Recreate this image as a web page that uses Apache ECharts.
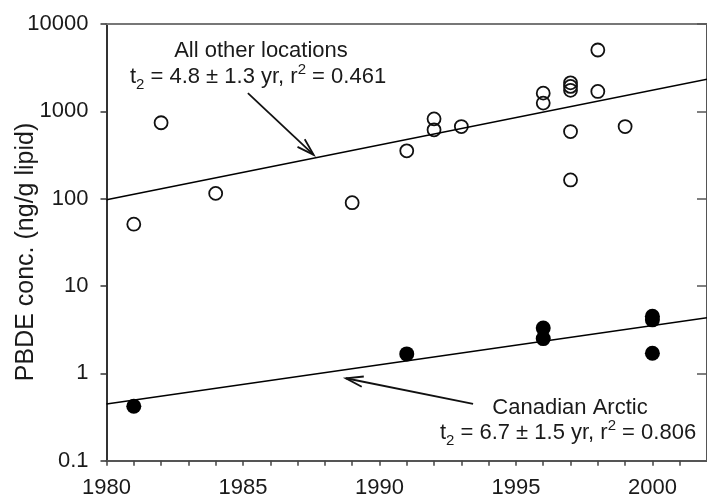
<!DOCTYPE html>
<html>
<head>
<meta charset="utf-8">
<script src="https://cdn.jsdelivr.net/npm/echarts@6/dist/echarts.min.js"></script>
<style>
  html, body { margin: 0; padding: 0; background: #fff; }
  #chart { width: 707px; height: 499px; }
</style>
</head>
<body>
<div id="chart"></div>
<script>
// PBDE concentrations over time (ng/g lipid)
const otherYears = [1981, 1982, 1984, 1989, 1991, 1992, 1992, 1993, 1996, 1996, 1997, 1997, 1997, 1997, 1997, 1998, 1998, 1999];
const otherConc  = [51, 740, 115, 90, 353, 820, 614, 670, 1616, 1242, 2120, 1930, 1740, 587, 164, 5040, 1690, 670];

const arcticYears = [1981, 1991, 1996, 1996, 2000, 2000, 2000];
const arcticConc  = [0.42, 1.67, 3.3, 2.5, 4.5, 4.1, 1.7];

// Log-linear regression lines, evaluated at the ends of the year range
const trendYears  = [1980, 2002];
const trendOther  = [97, 2330];
const trendArctic = [0.446, 4.34];

// Annotation arrows: [fromYear, fromConc, toYear, toConc]
const arrowOther  = [1985.18, 1617, 1987.59, 318];
const arrowArctic = [1993.43, 0.446, 1988.77, 0.879];

const yTicks = [0.1, 1, 10, 100, 1000, 10000];
const xLabelStep = 5;

const FONT = 'Liberation Sans, Arial, Helvetica, sans-serif';
const TEXT = '#1a1a1a';

const zip = (xs, ys) => xs.map((x, i) => [x, ys[i]]);

const chart = echarts.init(document.getElementById('chart'), null, { renderer: 'canvas' });

function arrowItem(params, api) {
  const p0 = api.coord([api.value(0), api.value(1)]);
  const p1 = api.coord([api.value(2), api.value(3)]);
  const ang = Math.atan2(p0[1] - p1[1], p0[0] - p1[0]);
  const len = 18, spread = 17 * Math.PI / 180;
  const h1 = [p1[0] + len * Math.cos(ang + spread), p1[1] + len * Math.sin(ang + spread)];
  const h2 = [p1[0] + len * Math.cos(ang - spread), p1[1] + len * Math.sin(ang - spread)];
  const style = { stroke: '#111', lineWidth: 1.8, fill: null };
  return {
    type: 'group',
    children: [
      { type: 'line', shape: { x1: p0[0], y1: p0[1], x2: p1[0], y2: p1[1] }, style },
      { type: 'polyline', shape: { points: [h1, p1, h2] }, style }
    ]
  };
}

const main = { fontSize: 22, fontFamily: FONT, color: TEXT, lineHeight: 30 };
const rich = {
  a: main,
  sub: { fontSize: 15, fontFamily: FONT, color: TEXT, lineHeight: 12, verticalAlign: 'bottom' },
  sup: { fontSize: 15, fontFamily: FONT, color: TEXT, lineHeight: 14, verticalAlign: 'top' }
};
const stat = (t, err, r2) => `{a|t}{sub|2}{a| = ${t} ± ${err} yr, r}{sup|2}{a| = ${r2}}`;

const option = {
  animation: false,
  backgroundColor: '#fff',
  grid: { left: 106.5, right: -8.5, top: 24, bottom: 38.3, containLabel: false },
  xAxis: [
    {
      type: 'value', position: 'bottom', min: 1980, max: 2002, interval: 1,
      axisLine: { show: true, lineStyle: { color: '#555', width: 2 } },
      axisTick: { show: true, inside: false, length: 5, lineStyle: { color: '#444', width: 1.5 } },
      axisLabel: {
        fontSize: 22, fontFamily: FONT, color: TEXT, margin: 16,
        showMaxLabel: false,
        formatter: v => (v % xLabelStep === 0 ? String(v) : '')
      },
      splitLine: { show: false }
    },
    {
      type: 'value', position: 'top', min: 1980, max: 2002, interval: 1,
      axisLine: { show: true, lineStyle: { color: '#777', width: 2.2 } },
      axisTick: { show: false }, axisLabel: { show: false }, splitLine: { show: false }
    }
  ],
  yAxis: [
    {
      type: 'log', logBase: 10, position: 'left', min: yTicks[0], max: yTicks[yTicks.length - 1],
      axisLine: { show: true, lineStyle: { color: '#333', width: 2 } },
      axisTick: { show: true, inside: false, length: 6, lineStyle: { color: '#333', width: 1.5 } },
      axisLabel: {
        fontSize: 22, fontFamily: FONT, color: TEXT, margin: 18,
        formatter: v => String(Number(v.toPrecision(3)))
      },
      splitLine: { show: false }
    },
    {
      type: 'log', logBase: 10, position: 'right', min: yTicks[0], max: yTicks[yTicks.length - 1],
      axisLine: { show: true, lineStyle: { color: '#555', width: 2 } },
      axisTick: { show: true, inside: true, length: 10, lineStyle: { color: '#555', width: 1.5 } },
      axisLabel: { show: false }, splitLine: { show: false }
    }
  ],
  series: [
    {
      name: 'All other locations trend', type: 'line', xAxisIndex: 0, yAxisIndex: 0,
      data: zip(trendYears, trendOther), symbol: 'none',
      lineStyle: { color: '#000', width: 1.6 }, silent: true
    },
    {
      name: 'Canadian Arctic trend', type: 'line', xAxisIndex: 0, yAxisIndex: 0,
      data: zip(trendYears, trendArctic), symbol: 'none',
      lineStyle: { color: '#000', width: 1.6 }, silent: true
    },
    {
      name: 'All other locations', type: 'scatter', xAxisIndex: 0, yAxisIndex: 0,
      data: zip(otherYears, otherConc), symbol: 'circle', symbolSize: 13,
      itemStyle: { color: 'rgba(0,0,0,0)', borderColor: '#111', borderWidth: 1.8, opacity: 1 }
    },
    {
      name: 'Canadian Arctic', type: 'scatter', xAxisIndex: 0, yAxisIndex: 0,
      data: zip(arcticYears, arcticConc), symbol: 'circle', symbolSize: 15,
      itemStyle: { color: '#000', opacity: 1 }
    },
    {
      name: 'annotation arrows', type: 'custom', xAxisIndex: 0, yAxisIndex: 0,
      renderItem: arrowItem, data: [arrowOther, arrowArctic], silent: true
    }
  ],
  graphic: [
    {
      type: 'text', x: 26, y: 252, rotation: Math.PI / 2,
      style: { text: 'PBDE conc. (ng/g lipid)', font: `25px ${FONT}`, fill: TEXT, align: 'center', verticalAlign: 'middle' }
    },
    {
      type: 'text', x: 261, y: 50.5,
      style: { text: 'All other locations', font: `22px ${FONT}`, fill: TEXT, align: 'center', verticalAlign: 'middle' }
    },
    {
      type: 'text', x: 258, y: 77,
      style: { text: stat('4.8', '1.3', '0.461'), rich, font: `22px ${FONT}`, fill: TEXT, align: 'center', verticalAlign: 'middle' }
    },
    {
      type: 'text', x: 570, y: 407.5,
      style: { text: 'Canadian Arctic', font: `22px ${FONT}`, fill: TEXT, align: 'center', verticalAlign: 'middle' }
    },
    {
      type: 'text', x: 568, y: 433,
      style: { text: stat('6.7', '1.5', '0.806'), rich, font: `22px ${FONT}`, fill: TEXT, align: 'center', verticalAlign: 'middle' }
    }
  ]
};

chart.setOption(option);
</script>
</body>
</html>
